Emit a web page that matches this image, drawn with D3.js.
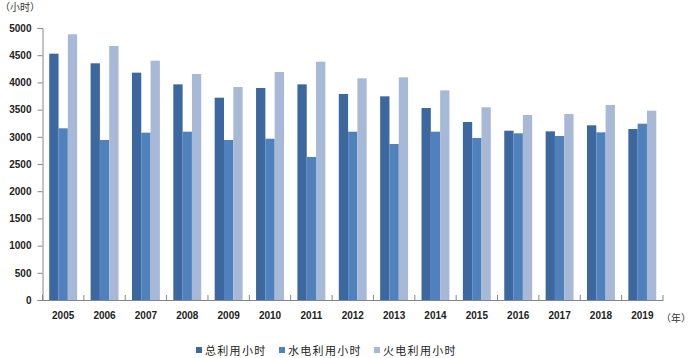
<!DOCTYPE html>
<html><head><meta charset="utf-8">
<script src="https://cdn.jsdelivr.net/npm/d3@7/dist/d3.min.js"></script>
<style>body{margin:0;background:#fff}svg{display:block}</style>
</head><body>
<svg id="c" width="692" height="358"></svg>
<script>
const years = ["2005","2006","2007","2008","2009","2010","2011","2012","2013","2014","2015","2016","2017","2018","2019"];
const totalHours = [4528,4351,4179,3964,3719,3897,3964,3787,3744,3529,3272,3112,3100,3211,3143];
const hydroHours = [3156,2941,3076,3094,2941,2965,2629,3094,2868,3094,2978,3064,3015,3082,3241];
const thermalHours = [4884,4669,4399,4154,3915,4191,4381,4075,4093,3854,3542,3401,3419,3585,3480];
const seriesNames = ["总利用小时","水电利用小时","火电利用小时"];
const yTicks = [0,500,1000,1500,2000,2500,3000,3500,4000,4500,5000];
const colors = ["#3D679F","#4F81BD","#A8B9D7"];

(function(){
const svg = d3.select("#c");
const mLeft = 42.5, mRight = 663, mTop = 28, mBottom = 300;
const x = d3.scaleBand().domain(years).range([mLeft, mRight]);
const y = d3.scaleLinear().domain([0,5000]).range([mBottom, mTop]);
const series = [totalHours, hydroHours, thermalHours];
const bw = x.bandwidth()*0.225;
const off = (x.bandwidth() - bw*3)/2;

const font = "'Noto Sans CJK SC','DejaVu Sans',sans-serif";

series.forEach((vals, si) => {
  svg.append("g").selectAll("rect").data(years).join("rect")
    .attr("x", d => x(d) + off + si*bw)
    .attr("y", (d,i) => y(vals[i]))
    .attr("width", bw)
    .attr("height", (d,i) => y(0) - y(vals[i]))
    .attr("fill", colors[si]);
});

const ya = svg.append("g").attr("transform", `translate(${mLeft},0)`)
  .call(d3.axisLeft(y).tickValues(yTicks).tickFormat(d3.format("d")).tickSize(5).tickPadding(6));
ya.select(".domain").attr("stroke","#868686");
ya.selectAll(".tick line").attr("stroke","#868686");
ya.selectAll(".tick text").attr("font-family","Arial,'Liberation Sans',sans-serif")
  .attr("font-size",10).attr("font-weight","bold").attr("fill","#222");

const xa = svg.append("g").attr("transform", `translate(0,${mBottom})`)
  .call(d3.axisBottom(x).tickSize(0).tickPadding(12));
xa.select(".domain").attr("stroke","#868686");
xa.selectAll(".tick text").attr("font-family","Arial,'Liberation Sans',sans-serif")
  .attr("font-size",10).attr("font-weight","bold").attr("fill","#222");
const bounds = years.map(d => x(d)).concat([mRight]);
svg.append("g").selectAll("line").data(bounds).join("line")
  .attr("x1", d => d).attr("x2", d => d)
  .attr("y1", mBottom).attr("y2", mBottom - 5)
  .attr("stroke","#868686");

svg.append("text").attr("x",0).attr("y",11).text("（小时）")
  .attr("font-family",font).attr("font-size",10).attr("fill","#333");
svg.append("text").attr("x",661).attr("y",322).text("（年）")
  .attr("font-family",font).attr("font-size",10).attr("fill","#333");

const lx = [196, 279, 374];
const lg = svg.append("g");
seriesNames.forEach((n,i) => {
  lg.append("rect").attr("x", lx[i]).attr("y", 347).attr("width",6).attr("height",6).attr("fill", colors[i]);
  lg.append("text").attr("x", lx[i]+9).attr("y", 355).text(n)
    .attr("font-family",font).attr("font-size",11).attr("letter-spacing",1.3).attr("fill","#222");
});
})();
</script>
</body></html>
